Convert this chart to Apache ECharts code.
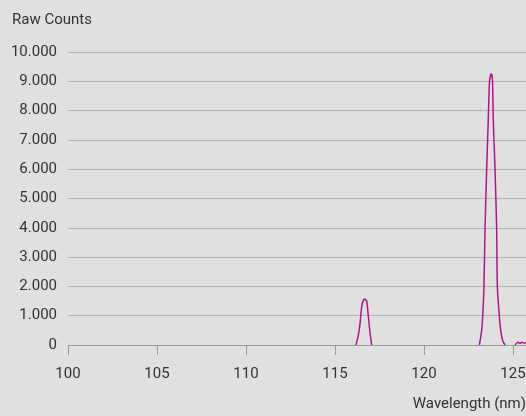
<!DOCTYPE html>
<html><head><meta charset="utf-8">
<script src="https://cdn.jsdelivr.net/npm/echarts@6/dist/echarts.min.js"></script>
<style>html,body{margin:0;padding:0;background:#e0e0e0;}#c{width:526px;height:416px;}</style>
</head><body><div id="c"></div>
<script>
var wavelength = [116.18,116.30,116.40,116.50,116.60,116.69,116.78,116.87,116.97,117.06,
  null,
  123.11,123.24,123.30,123.37,123.43,123.52,123.61,123.68,123.75,123.80,123.85,123.89,123.99,124.08,124.12,124.23,124.31,124.42,124.55,
  null,
  125.11,125.2,125.3,125.4,125.5,125.6,125.73];
var counts = [0,300,700,1300,1540,1565,1500,1000,400,0,
  null,
  0,500,1017,2000,4000,6000,7700,9000,9230,9246,9000,7700,6000,4000,2000,1000,500,150,0,
  null,
  0,60,90,60,90,70,80];
var xTicks = [100,105,110,115,120,125];
var yTicks = [0,1000,2000,3000,4000,5000,6000,7000,8000,9000,10000];

var FONT = '"Liberation Sans Narrow","Roboto",sans-serif';
var data = wavelength.map(function(w,i){ return w===null ? [null,null] : [w, counts[i]]; });
var chart = echarts.init(document.getElementById('c'));
chart.setOption({
  backgroundColor:'#e0e0e0',
  animation:false,
  grid:{left:68, right:0, top:52, bottom:71, containLabel:false, outerBoundsMode:'none'},
  xAxis:{
    type:'value', min:100, max:125.73, interval:5,
    name:'Wavelength (nm)', nameLocation:'end', nameGap:0,
    nameTextStyle:{fontFamily:FONT, fontSize:15, color:'#333', align:'right', verticalAlign:'top', padding:[52,0,0,0]},
    axisLine:{show:true, lineStyle:{color:'#9a9a9a', width:1}},
    axisTick:{show:true, length:10, lineStyle:{color:'#9a9a9a'}},
    axisLabel:{fontFamily:FONT, fontSize:15, color:'#333', margin:22, showMaxLabel:false, hideOverlap:false,
      formatter:function(v){ return xTicks.indexOf(v)>=0 ? String(v) : ''; }},
    splitLine:{show:false}
  },
  yAxis:{
    type:'value', min:0, max:10000, interval:1000,
    name:'Raw Counts', nameLocation:'end', nameGap:24,
    nameTextStyle:{fontFamily:FONT, fontSize:15, color:'#333', align:'left', padding:[0,0,0,-56]},
    axisLine:{show:false}, axisTick:{show:false},
    axisLabel:{fontFamily:FONT, fontSize:15, color:'#333', margin:11,
      formatter:function(v){ return yTicks.indexOf(v)>=0 ? String(v).replace(/\B(?=(\d{3})+(?!\d))/g,'.') : ''; }},
    splitLine:{show:true, lineStyle:{color:'#b2b2b2', width:1}}
  },
  series:[{
    type:'line', data:data, showSymbol:false, connectNulls:false, smooth:0.2,
    lineStyle:{color:'#b0138f', width:1.5}, clip:true
  }]
});
</script></body></html>
